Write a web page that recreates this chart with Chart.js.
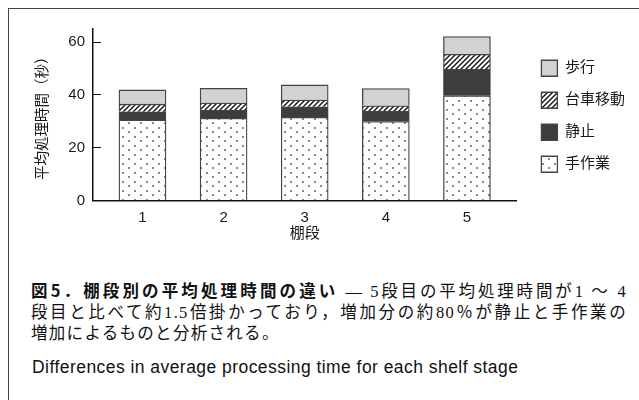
<!DOCTYPE html>
<html lang="ja">
<head>
<meta charset="utf-8">
<script src="https://cdn.jsdelivr.net/npm/chart.js@4.4.0/dist/chart.umd.min.js"></script>
<style>
  html, body { margin: 0; padding: 0; background: #fff; }
  body { width: 639px; height: 400px; position: relative; overflow: hidden; }
  #frame { position: absolute; left: 8px; top: 8px; width: 700px; height: 500px;
    border-left: 1.5px solid #444; border-top: 1.5px solid #444; }
  #chart { position: absolute; left: 0; top: 0; }
  .cap { position: absolute; left: 31px; top: 280px; width: 596px; font-size: 16.5px; line-height: 21px;
    color: #111; font-family: "Liberation Serif", "Noto Sans CJK JP", serif; letter-spacing: 1.3px; }
  .cap .j { text-align: justify; text-align-last: justify; }
  .cap b { font-family: "Noto Sans CJK JP", sans-serif; font-weight: 700; letter-spacing: 1.6px; }
  #en { position: absolute; left: 32px; top: 357px; font-family: "Liberation Sans", sans-serif;
    font-size: 17.5px; letter-spacing: 0.45px; line-height: 20px; color: #111; white-space: nowrap; }
</style>
</head>
<body>
<div id="frame"></div>
<canvas id="chart" width="639" height="260"></canvas>
<div class="cap">
  <div class="j"><b>図5．棚段別の平均処理時間の違い</b> ― 5段目の平均処理時間が1 ～ 4</div>
  <div class="j">段目と比べて約1.5倍掛かっており，増加分の約80％が静止と手作業の</div>
  <div>増加によるものと分析される。</div>
</div>
<div id="en">Differences in average processing time for each shelf stage</div>
<script>
// 棚段別の平均処理時間 (秒), stacked bottom to top
const stages = [1, 2, 3, 4, 5];
const stageLabels = ['1', '2', '3', '4', '5'];
const handWork = [30.5, 31.2, 31.5, 29.9, 39.7];   // 手作業
const stopped = [3.1, 3.0, 4.0, 4.0, 10.0];        // 静止
const cartMove = [2.9, 2.7, 2.6, 2.0, 5.7];        // 台車移動
const walking = [5.4, 5.6, 5.7, 6.5, 6.7];         // 歩行
const yTicks = [0, 20, 40, 60];

const textColor = '#1a1a1a';
Chart.defaults.font.family = '"Liberation Sans", "Noto Sans CJK JP", sans-serif';
Chart.defaults.color = textColor;

function xy(values) {
  return stages.map((s, i) => ({ x: s, y: values[i] }));
}

function dotPattern() {
  const c = document.createElement('canvas');
  c.width = 12; c.height = 9;
  const g = c.getContext('2d');
  g.fillStyle = '#fff';
  g.fillRect(0, 0, 12, 9);
  g.fillStyle = '#888';
  g.fillRect(2, 1, 2, 2);
  g.fillRect(8, 5, 2, 2);
  return g.createPattern(c, 'repeat');
}

function hatchPattern() {
  const s = 5;
  const c = document.createElement('canvas');
  c.width = s; c.height = s;
  const g = c.getContext('2d');
  g.fillStyle = '#fff';
  g.fillRect(0, 0, s, s);
  g.strokeStyle = '#111';
  g.lineWidth = 1.4;
  g.beginPath();
  g.moveTo(0, s); g.lineTo(s, 0);
  g.moveTo(-1, 1); g.lineTo(1, -1);
  g.moveTo(s - 1, s + 1); g.lineTo(s + 1, s - 1);
  g.stroke();
  return g.createPattern(c, 'repeat');
}

new Chart(document.getElementById('chart'), {
  type: 'bar',
  data: {
    datasets: [
      { label: '手作業', data: xy(handWork), backgroundColor: dotPattern() },
      { label: '静止', data: xy(stopped), backgroundColor: '#3d3d3d' },
      { label: '台車移動', data: xy(cartMove), backgroundColor: hatchPattern() },
      { label: '歩行', data: xy(walking), backgroundColor: '#d2d2d2' },
    ],
  },
  options: {
    responsive: false,
    animation: false,
    events: [],
    layout: { padding: { top: 29, left: 30, right: 14.5, bottom: 13.5 } },
    datasets: {
      bar: { barThickness: 47, borderWidth: 1.3, borderColor: '#444' },
    },
    scales: {
      x: {
        type: 'linear',
        stacked: true,
        offset: false,
        min: 0.39,
        max: 5.61,
        afterBuildTicks: s => { s.ticks = stages.map(v => ({ value: v })); },
        afterFit: s => { s.height = 46; },
        grid: { display: true, offset: false, drawOnChartArea: false, drawTicks: false },
        border: { color: '#111', width: 1.5 },
        ticks: {
          padding: 8,
          font: { size: 15 },
          color: textColor,
          callback: (v, i) => stageLabels[i],
        },
        title: { display: true, text: '棚段', font: { size: 15 }, color: textColor, padding: { top: 0, bottom: 4 } },
      },
      y: {
        stacked: true,
        min: 0,
        max: 65,
        afterBuildTicks: s => { s.ticks = yTicks.map(v => ({ value: v })); },
        afterFit: s => { s.width = 63; },
        grid: { drawOnChartArea: false, tickLength: -8, color: '#111', lineWidth: 1 },
        border: { color: '#111', width: 1.5 },
        ticks: { padding: 16, font: { size: 15 }, color: textColor },
        title: { display: true, text: '平均処理時間（秒）', font: { size: 14.5 }, color: textColor, padding: { top: 4.6, bottom: 0 } },
      },
      // empty spacer between plot and legend
      gap: {
        type: 'linear',
        position: 'right',
        display: true,
        grid: { display: false },
        border: { display: false },
        ticks: { display: false },
        afterFit: s => { s.width = 9; },
      },
    },
    plugins: {
      legend: {
        position: 'right',
        align: 'center',
        fullSize: false,
        reverse: true,
        title: { display: true, text: '', font: { size: 2.5 }, padding: 0 },
        labels: {
          boxWidth: 16,
          boxHeight: 16,
          padding: 16,
          font: { size: 15 },
          color: textColor,
        },
      },
      tooltip: { enabled: false },
    },
  },
});
</script>
</body>
</html>
